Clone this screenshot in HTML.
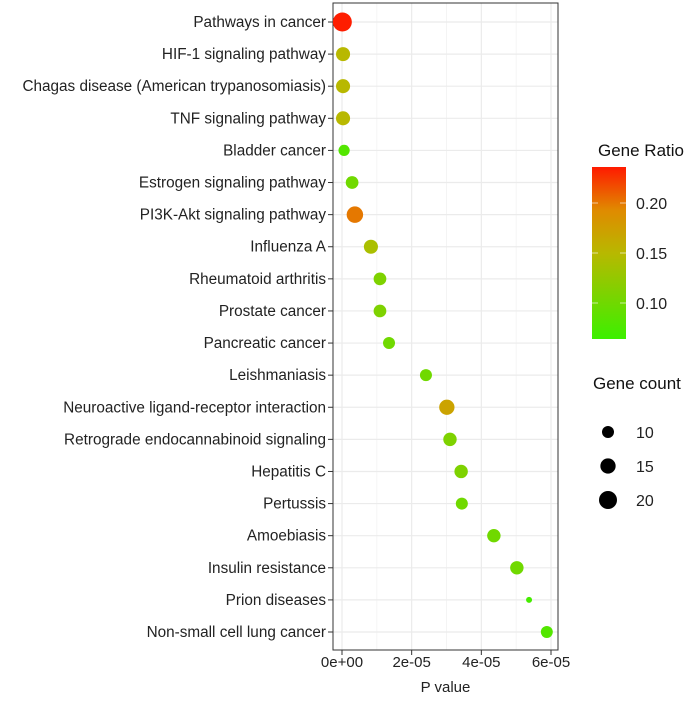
<!DOCTYPE html>
<html><head><meta charset="utf-8"><style>
body{margin:0;background:#fff;}
svg{font-family:"Liberation Sans",sans-serif;}
</style></head><body>
<svg id="chart" width="695" height="698">
<defs><linearGradient id="cg" x1="0" y1="1" x2="0" y2="0">
<stop offset="0" stop-color="#3cf000"/><stop offset="0.5" stop-color="#b8b800"/><stop offset="0.75" stop-color="#e08a00"/><stop offset="1" stop-color="#ff1a00"/>
</linearGradient></defs>
<g id="plot"></g>
</svg>
<script>
const categories=["Pathways in cancer","HIF-1 signaling pathway","Chagas disease (American trypanosomiasis)","TNF signaling pathway","Bladder cancer","Estrogen signaling pathway","PI3K-Akt signaling pathway","Influenza A","Rheumatoid arthritis","Prostate cancer","Pancreatic cancer","Leishmaniasis","Neuroactive ligand-receptor interaction","Retrograde endocannabinoid signaling","Hepatitis C","Pertussis","Amoebiasis","Insulin resistance","Prion diseases","Non-small cell lung cancer"];
const pValues=[0.1e-6,0.3e-6,0.3e-6,0.3e-6,0.6e-6,2.9e-6,3.7e-6,8.3e-6,1.09e-5,1.09e-5,1.35e-5,2.41e-5,3.01e-5,3.1e-5,3.42e-5,3.44e-5,4.36e-5,5.02e-5,5.37e-5,5.88e-5];
const geneRatio=[0.235,0.15,0.15,0.15,0.08,0.10,0.20,0.14,0.11,0.11,0.10,0.10,0.17,0.11,0.11,0.10,0.10,0.10,0.07,0.08];
const geneCount=[22,13,13,13,9,11,17,13,11,11,10,10,15,12,12,10,12,12,4,10];
const xTicks=[0,2e-5,4e-5,6e-5];
const xTickLabels=["0e+00","2e-05","4e-05","6e-05"];
const ratioTicks=[0.10,0.15,0.20];
const countLegend=[10,15,20];

const NS="http://www.w3.org/2000/svg";
const g=document.getElementById('plot');
function el(t,a,p){const e=document.createElementNS(NS,t);for(const k in a)e.setAttribute(k,a[k]);(p||g).appendChild(e);return e;}
const L=333,R=558,T=3,B=650;
const x=v=>342+v/6e-5*209;
const y=i=>22+i*(632-22)/19;
const rMin=0.064,rMax=0.236;
const r=c=>Math.sqrt(Math.max(4,-9+4.5*c));
function hex(h){return [parseInt(h.substr(1,2),16),parseInt(h.substr(3,2),16),parseInt(h.substr(5,2),16)];}
const stops=[[0,"#3cf000"],[0.5,"#b8b800"],[0.75,"#e08a00"],[1,"#ff1a00"]];
function color(v){let t=(v-rMin)/(rMax-rMin);t=Math.max(0,Math.min(1,t));
for(let i=0;i<stops.length-1;i++){if(t<=stops[i+1][0]){const a=hex(stops[i][1]),b=hex(stops[i+1][1]);const f=(t-stops[i][0])/(stops[i+1][0]-stops[i][0]);return `rgb(${a.map((c,j)=>Math.round(c+(b[j]-c)*f)).join(',')})`;}}return stops[3][1];}

let bg=el('rect',{x:L,y:T,width:R-L,height:B-T,fill:'#fff'});


[1e-5,3e-5,5e-5].forEach(v=>{el('line',{x1:x(v),x2:x(v),y1:T,y2:B,stroke:'#f2f2f2','stroke-width':0.8});});
xTicks.forEach(v=>{const l=el('line',{x1:x(v),x2:x(v),y1:T,y2:B,stroke:'#ebebeb','stroke-width':1.2});

});
categories.forEach((c,i)=>{el('line',{x1:L,x2:R,y1:y(i),y2:y(i),stroke:'#ebebeb','stroke-width':1.2});});
let fr=el('rect',{x:L,y:T,width:R-L,height:B-T,fill:'none',stroke:'#333','stroke-width':1});


categories.forEach((c,i)=>{
 el('line',{x1:L-5,x2:L,y1:y(i),y2:y(i),stroke:'#333'});
 const t=el('text',{x:L-7,y:y(i)+5,'text-anchor':'end','font-size':15.3,fill:'#222'});t.textContent=c;
 
 
 const d=el('circle',{cx:x(pValues[i]),cy:y(i),r:r(geneCount[i]),fill:color(geneRatio[i])});
 
 
});
xTicks.forEach((v,i)=>{el('line',{x1:x(v),x2:x(v),y1:B,y2:B+5,stroke:'#333'});
 const t=el('text',{x:x(v),y:B+17,'text-anchor':'middle','font-size':15,fill:'#222'});t.textContent=xTickLabels[i];
 
 });
let xt=el('text',{x:(L+R)/2,y:692,'text-anchor':'middle','font-size':15,fill:'#222'});xt.textContent='P value';


let ct=el('text',{x:598,y:156,'font-size':17,fill:'#111'});ct.textContent='Gene Ratio';


const cT=167,cB=339;
const cy=v=>cB-(v-rMin)/(rMax-rMin)*(cB-cT);
let cb=el('rect',{x:592,y:cT,width:34,height:cB-cT,fill:'url(#cg)'});


ratioTicks.forEach(v=>{el('line',{x1:592,x2:598,y1:cy(v),y2:cy(v),stroke:'#fff','stroke-opacity':0.6});
 el('line',{x1:620,x2:626,y1:cy(v),y2:cy(v),stroke:'#fff','stroke-opacity':0.6});
 const t=el('text',{x:636,y:cy(v)+6,'font-size':16,fill:'#222'});t.textContent=v.toFixed(2);
 
 });
let st=el('text',{x:593,y:389,'font-size':17,fill:'#111'});st.textContent='Gene count';


countLegend.forEach((c,i)=>{const yy=432+i*34;
 const d=el('circle',{cx:608,cy:yy,r:r(c),fill:'#000'});
 
 
 const t=el('text',{x:636,y:yy+6,'font-size':16,fill:'#222'});t.textContent=c;
 
 });
</script>
</body></html>
